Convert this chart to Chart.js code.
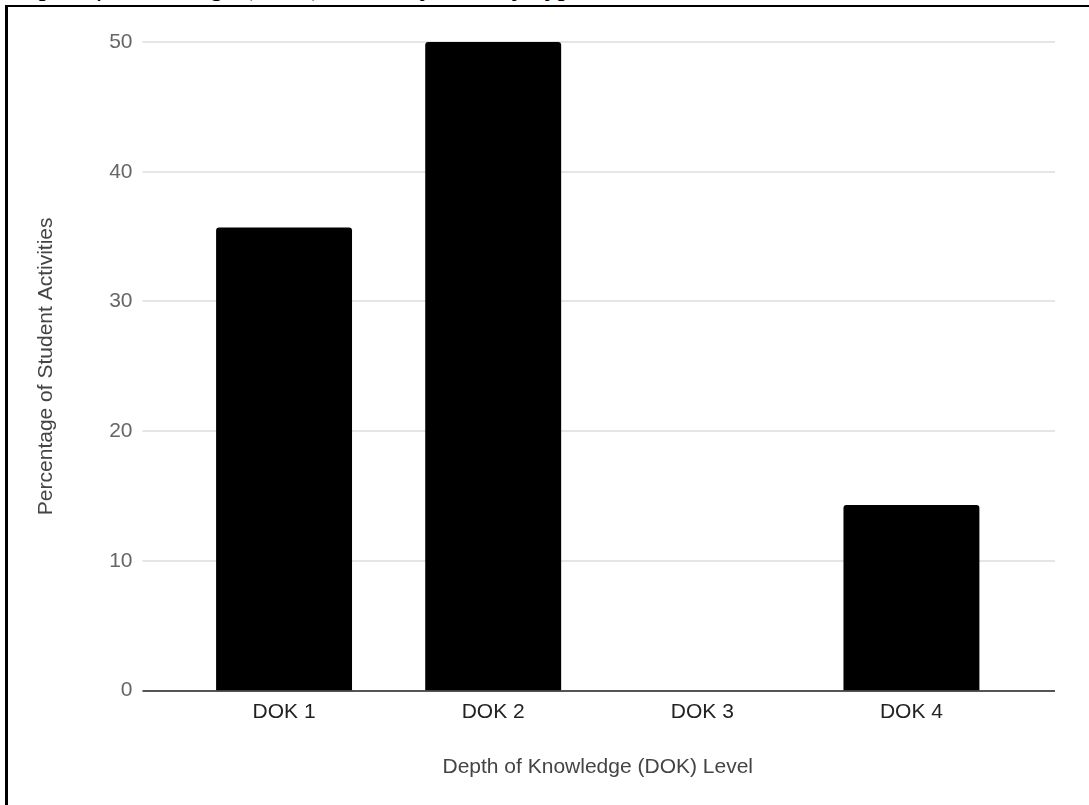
<!DOCTYPE html>
<html>
<head>
<meta charset="utf-8">
<script src="https://cdn.jsdelivr.net/npm/chart.js@4/dist/chart.umd.min.js"></script>
<style>
  html, body { margin: 0; padding: 0; background: #fff; }
  #wrap { position: relative; width: 1089px; height: 805px; overflow: hidden; background: #fff; }
  #caption { position: absolute; left: 8px; top: -28px; font: italic 28px "Liberation Serif", "Times New Roman", serif; line-height: 28px; color: #000; white-space: nowrap; }
  #frame { position: absolute; left: 5px; top: 5px; width: 1200px; height: 900px; border-top: 2px solid #000; border-left: 3px solid #000; box-sizing: border-box; background: transparent; }
  canvas { position: absolute; left: 0; top: 0; }
</style>
</head>
<body>
<div id="wrap">
  <div id="caption">Depth of Knowledge (DOK) Levels by Activity Type in the Unit</div>
  <div id="frame"></div>
  <canvas id="c" width="1089" height="805"></canvas>
</div>
<script>
const categories = ["DOK 1", "DOK 2", "DOK 3", "DOK 4"];
const percentages = [35.7, 50, 0, 14.3];
const yTicks = [0, 10, 20, 30, 40, 50];
const xTitle = "Depth of Knowledge (DOK) Level";
const yTitle = "Percentage of Student Activities";

const FONT = '"Liberation Sans", Arial, Helvetica, sans-serif';

const wideGrid = {
  id: 'wideGrid',
  beforeDatasetsDraw(chart) {
    const { ctx, chartArea, scales } = chart;
    const y = scales.y;
    const x0 = chartArea.left - 37;
    const x1 = chartArea.right + 39;
    ctx.save();
    y.ticks.forEach(t => {
      const py = Math.round(y.getPixelForValue(t.value));
      ctx.beginPath();
      if (t.value === 0) {
        ctx.strokeStyle = '#555555';
        ctx.lineWidth = 2;
      } else {
        ctx.strokeStyle = '#dcdcdc';
        ctx.lineWidth = 1.5;
      }
      ctx.moveTo(x0, py);
      ctx.lineTo(x1, py);
      ctx.stroke();
    });
    ctx.restore();
  }
};

new Chart(document.getElementById('c'), {
  type: 'bar',
  data: {
    labels: categories,
    datasets: [{
      data: percentages,
      backgroundColor: '#000000',
      borderWidth: 0,
      borderRadius: 3,
      categoryPercentage: 1.0,
      barPercentage: 0.65
    }]
  },
  options: {
    responsive: false,
    devicePixelRatio: 1,
    animation: false,
    layout: { padding: { left: 10, right: 73, top: 42, bottom: 20 } },
    plugins: { legend: { display: false }, tooltip: { enabled: false } },
    scales: {
      x: {
        grid: { display: false, drawTicks: false },
        border: { display: false },
        ticks: { color: '#222222', font: { family: FONT, size: 21 }, padding: 9 },
        title: { display: true, text: xTitle, color: '#444444', font: { family: FONT, size: 21 }, padding: { top: 21, bottom: 5 } }
      },
      y: {
        min: 0,
        max: 50,
        afterBuildTicks: s => { s.ticks = yTicks.map(v => ({ value: v })); },
        afterFit: s => { s.width = 169.5; },
        grid: { display: false, drawTicks: true, tickLength: 47 },
        border: { display: false },
        ticks: { color: '#666666', font: { family: FONT, size: 21 }, padding: 0 },
        title: { display: true, text: yTitle, color: '#444444', font: { family: FONT, size: 21 }, padding: { top: 24, bottom: 0 } }
      }
    }
  },
  plugins: [wideGrid]
});
</script>
</body>
</html>
